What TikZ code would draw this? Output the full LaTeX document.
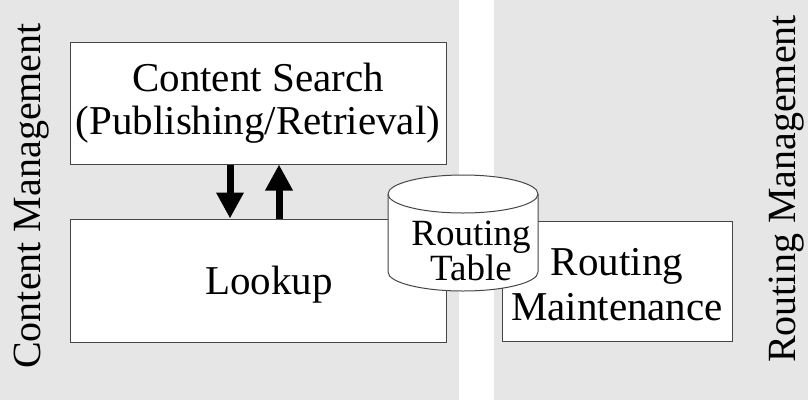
\documentclass[tikz,border=0pt]{standalone}
\usepackage{fontspec}
\setmainfont{Liberation Serif}
\usetikzlibrary{arrows.meta}
\definecolor{panelgrey}{RGB}{230,230,230}
\definecolor{boxgrey}{RGB}{70,70,70}

\begin{document}
\begin{tikzpicture}[x=1pt,y=-1pt,
        panel/.style={fill=panelgrey,draw=none},
        box/.style={draw=boxgrey,line width=1pt,fill=white,inner sep=0pt,
          align=center,font=\fontsize{41}{43}\selectfont},
        side/.style={rotate=90,anchor=base,inner sep=0pt,
          font=\fontsize{40}{44}\selectfont},
        flow/.style={-{Triangle[length=26pt,width=26pt]},line width=7pt}]
  \useasboundingbox (0,0) rectangle (812,400);
  \fill[panelgrey] (0,0) rectangle (459,400);
  \fill[panelgrey] (494,0) rectangle (808,400);

  \node[side] (cm) at (40,196) {Content Management};
  \node[side] (rm) at (795,189) {Routing Management};

  \node[box,minimum width=376pt,minimum height=122pt] (search) at (258,103)
        {Content Search\\(Publishing/Retrieval)};
  \node[box,minimum width=376pt,minimum height=123pt,
        label={[xshift=11pt,yshift=-4pt,font=\fontsize{41}{43}\selectfont]center:Lookup}]
        (lookup) at (258,280.5) {};
  \node[box,minimum width=230pt,minimum height=120pt,
        label={[yshift=-4pt,align=center,font=\fontsize{41}{45}\selectfont]center:Routing\\Maintenance}]
        (maint) at (617,281) {};

  % routing table
  \path[draw=boxgrey,fill=white,line width=1pt]
        (388,194) -- (388,272) arc[start angle=180,end angle=0,x radius=75,y radius=19]
        -- (538,194) arc[start angle=0,end angle=-180,x radius=75,y radius=19] -- cycle;
  \draw[boxgrey,line width=1pt] (388,194)
        arc[start angle=180,end angle=0,x radius=75,y radius=19];
  \node[align=center,inner sep=0pt,font=\fontsize{37}{35}\selectfont]
        (rtable) at (471,251) {Routing\\Table};

  \draw[flow] ([xshift=-28pt]search.south) -- ([xshift=-28pt]lookup.north);
  \draw[flow] ([xshift=21pt]lookup.north) -- ([xshift=21pt]search.south);
\end{tikzpicture}
\end{document}
